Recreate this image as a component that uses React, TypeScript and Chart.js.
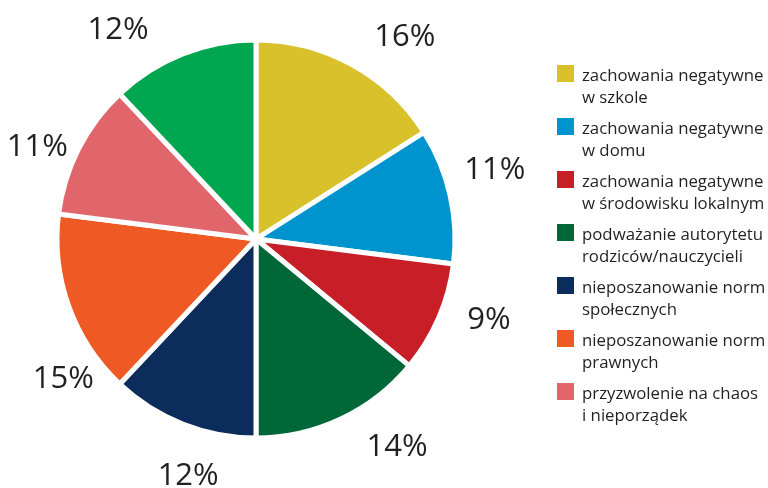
import React, { useEffect, useRef } from "react";
import { Chart, registerables } from "chart.js";

Chart.register(...registerables);

const categories = [
  "zachowania negatywne\nw szkole",
  "zachowania negatywne\nw domu",
  "zachowania negatywne\nw środowisku lokalnym",
  "podważanie autorytetu\nrodziców/nauczycieli",
  "nieposzanowanie norm\nspołecznych",
  "nieposzanowanie norm\nprawnych",
  "przyzwolenie na chaos\ni nieporządek",
  "",
];
const values = [16, 11, 9, 14, 12, 15, 11, 12];
const percentLabels = ["16%", "11%", "9%", "14%", "12%", "15%", "11%", "12%"];
const colors = ["#D8C12A", "#0094CE", "#C81E27", "#006838", "#0C2C5B", "#EF5A24", "#E0666B", "#00A650"];
const legendCount = 7;

// label placement styling: angular shift (deg) from slice middle and distance beyond the rim (px)
const labelAngleShift = [7.3, -3.9, -4.7, -9.2, -5.5, -15.8, -3.8, -11.6];
const labelDistance = [53.6, 50, 47, 50.6, 45.6, 38, 39, 53];

const LABEL_FONT_SIZE = 31;

const labelPlugin = {
  id: "outerLabels",
  afterDraw(chart: any) {
    const ctx = chart.ctx;
    const meta = chart.getDatasetMeta(0);
    ctx.save();
    ctx.font = `${LABEL_FONT_SIZE}px "Open Sans", sans-serif`;
    ctx.fillStyle = "#231f20";
    ctx.textAlign = "center";
    ctx.textBaseline = "alphabetic";
    meta.data.forEach((arc: any, i: number) => {
      const p = arc.getProps(["x", "y", "startAngle", "endAngle", "outerRadius"], true);
      const mid = (p.startAngle + p.endAngle) / 2 + (labelAngleShift[i] * Math.PI) / 180;
      const r = p.outerRadius + labelDistance[i];
      const cx = p.x + Math.cos(mid) * r;
      const cy = p.y + Math.sin(mid) * r;
      ctx.fillText(percentLabels[i], cx, cy + LABEL_FONT_SIZE * 0.714 / 2);
    });
    ctx.restore();
  },
};

export default function App() {
  const ref = useRef<HTMLCanvasElement>(null);
  useEffect(() => {
    document.body.style.margin = "0";
    const chart = new Chart(ref.current!, {
      type: "pie",
      data: {
        labels: categories,
        datasets: [
          {
            data: values,
            backgroundColor: colors,
            borderColor: "#ffffff",
            borderWidth: 5,
          },
        ],
      },
      options: {
        animation: false,
        responsive: false,
        layout: { padding: { left: 54.5, right: 310.5, top: 37.5, bottom: 47.5 } },
        plugins: { legend: { display: false }, tooltip: { enabled: false } },
      },
      plugins: [labelPlugin],
    });
    return () => chart.destroy();
  }, []);

  return (
    <div style={{ position: "relative", width: 768, height: 488, background: "#fff" }}>
      <canvas ref={ref} width={768} height={488} style={{ position: "absolute", left: 0, top: 0 }} />
      <div style={{ position: "absolute", left: 557, top: 64, fontFamily: '"Open Sans", sans-serif', fontSize: 16.8, color: "#231f20" }}>
        {categories.slice(0, legendCount).map((c, i) => (
          <div key={i} style={{ position: "relative", height: 53, paddingLeft: 25 }}>
            <div style={{ position: "absolute", left: 0, top: 1, width: 17, height: 17, background: colors[i] }} />
            {c.split("\n").map((line, j) => (
              <div key={j} style={{ lineHeight: "22px", whiteSpace: "nowrap" }}>{line}</div>
            ))}
          </div>
        ))}
      </div>
    </div>
  );
}
